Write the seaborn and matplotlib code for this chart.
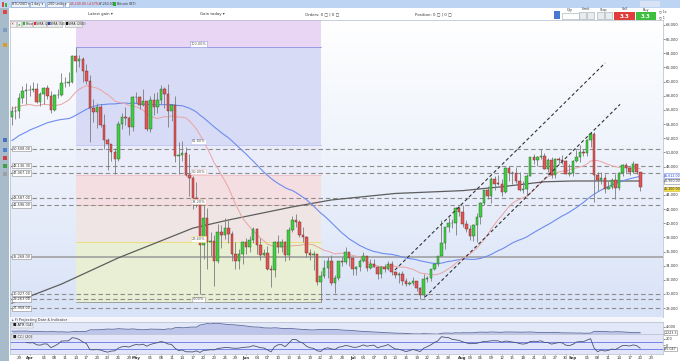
import numpy as np
import pandas as pd
import matplotlib
matplotlib.use("Agg")
import matplotlib.pyplot as plt
import matplotlib.transforms as mtransforms
from matplotlib.patches import Rectangle
from matplotlib.colors import LinearSegmentedColormap
import seaborn as sns

sns.set_theme(style="white")
plt.rcParams["font.family"] = ["DejaVu Sans"]

# ---------------- data (BTC/USD, USD thousands) ----------------
start_date = "2021-03-27"
opens = [55.00, 55.85, 55.78, 57.63, 58.73, 58.80, 58.76, 59.00, 57.10, 58.20,
         59.12, 57.96, 55.95, 58.08, 58.10, 59.77, 59.86, 59.90, 63.58, 62.95,
         63.24, 61.46, 60.07, 56.25, 55.72, 56.48, 53.80, 51.70, 51.15, 50.10,
         49.05, 54.05, 55.05, 54.89, 53.58, 57.78, 57.83, 56.63, 57.21, 53.24,
         57.47, 56.43, 57.38, 58.93, 58.30, 55.86, 56.70, 49.47, 49.70, 49.92,
         46.78, 46.45, 43.56, 42.91, 36.99, 40.78, 37.30, 37.52, 34.72, 38.80,
         38.40, 39.30, 38.43, 35.69, 34.62, 35.68, 37.34, 36.70, 37.57, 39.19,
         36.86, 35.54, 35.80, 33.57, 33.38, 37.39, 36.69, 37.34, 35.55, 39.10,
         40.52, 40.14, 38.35, 38.10, 35.82, 35.48, 35.60, 31.68, 32.51, 33.68,
         34.66, 31.59, 32.24, 34.68, 34.48, 35.87, 35.04, 33.51, 33.80, 34.67,
         35.30, 33.69, 34.22, 33.86, 32.88, 33.81, 33.51, 34.26, 33.09, 32.73,
         32.82, 31.78, 31.42, 31.52, 31.78, 30.84, 29.79, 32.11, 32.29, 33.58,
         34.29, 35.40, 37.27, 39.45, 40.00, 40.02, 42.20, 41.63, 39.88, 39.20,
         38.15, 39.73, 40.88, 42.83, 44.63, 43.82, 46.29, 45.60, 45.58, 44.43,
         47.83, 47.10, 47.05, 46.00, 44.70, 44.80, 46.72, 49.33, 48.87, 49.28,
         49.51, 47.70, 48.95, 46.85, 49.07, 48.90, 48.81, 46.99, 47.15, 48.83,
         49.28, 50.03, 49.94, 51.77, 52.66, 46.86, 46.05, 46.40, 44.85, 45.16,
         46.06, 44.96, 47.09, 48.18, 47.78, 47.29, 48.30, 47.26]
highs = [56.6, 56.6, 58.4, 59.4, 59.8, 59.5, 60.0, 59.8, 58.5, 59.2,
         59.5, 58.7, 58.2, 58.9, 61.2, 60.7, 61.3, 63.8, 64.9, 63.8,
         63.5, 62.5, 61.0, 57.5, 57.0, 56.8, 55.4, 52.1, 51.2, 50.6,
         54.4, 55.5, 56.4, 55.2, 58.0, 58.5, 57.9, 58.9, 57.2, 57.9,
         58.4, 58.6, 59.5, 59.3, 59.6, 56.9, 58.0, 51.4, 51.6, 50.7,
         49.8, 46.6, 45.8, 43.5, 42.5, 42.2, 38.8, 38.3, 39.9, 39.8,
         40.8, 40.4, 38.9, 37.3, 36.4, 37.5, 37.9, 38.2, 39.5, 39.3,
         37.9, 36.4, 36.8, 34.1, 37.5, 38.4, 37.7, 37.5, 39.4, 41.0,
         41.3, 40.5, 39.5, 38.2, 36.4, 36.1, 35.7, 33.3, 34.8, 35.2,
         35.5, 32.7, 34.7, 35.2, 36.6, 36.0, 35.1, 33.9, 34.9, 35.9,
         35.3, 35.0, 35.0, 33.9, 34.0, 34.2, 34.6, 34.6, 33.3, 33.1,
         33.2, 32.2, 31.9, 32.4, 31.9, 31.0, 32.8, 32.6, 33.6, 34.4,
         35.4, 40.5, 39.5, 40.9, 40.6, 42.3, 42.4, 42.6, 40.4, 39.8,
         39.9, 41.4, 43.0, 44.7, 45.3, 46.5, 46.7, 46.8, 46.2, 48.0,
         48.1, 47.4, 48.0, 47.2, 46.0, 47.0, 49.4, 49.8, 49.5, 50.5,
         49.9, 49.2, 49.3, 49.2, 49.3, 49.6, 48.9, 48.3, 48.9, 50.3,
         51.0, 50.5, 51.9, 52.9, 52.9, 47.3, 47.3, 47.0, 45.9, 46.4,
         46.9, 47.2, 48.4, 48.5, 48.0, 48.8, 48.4, 47.3]
lows = [53.9, 54.7, 54.9, 57.0, 56.9, 57.9, 58.5, 57.0, 56.5, 56.8,
        57.6, 55.5, 55.8, 57.7, 57.9, 59.3, 59.4, 59.8, 61.3, 62.1,
        60.0, 59.6, 51.5, 54.3, 53.5, 53.6, 50.5, 47.5, 48.8, 47.0,
        48.8, 53.3, 53.9, 52.4, 53.0, 57.0, 56.1, 56.5, 53.0, 52.9,
        55.3, 55.6, 56.9, 56.3, 53.6, 54.4, 48.6, 46.9, 48.8, 46.6,
        43.9, 42.0, 42.3, 30.0, 35.0, 33.5, 35.3, 31.1, 34.4, 36.5,
        37.8, 37.2, 34.7, 33.6, 33.5, 34.2, 35.7, 35.9, 37.2, 35.6,
        34.8, 35.3, 33.4, 31.0, 32.4, 35.8, 35.9, 34.7, 34.8, 38.8,
        39.5, 38.1, 37.4, 35.2, 34.8, 33.4, 31.3, 28.8, 32.3, 32.3,
        31.3, 30.2, 32.0, 33.9, 34.3, 34.0, 32.7, 32.7, 33.3, 34.5,
        33.2, 33.5, 33.8, 32.1, 32.3, 33.1, 33.4, 32.7, 32.3, 31.6,
        31.2, 31.1, 31.2, 31.2, 30.4, 29.3, 29.5, 31.7, 31.9, 33.4,
        33.9, 35.3, 36.4, 38.8, 39.3, 38.3, 41.0, 39.4, 38.7, 37.6,
        37.5, 37.3, 39.9, 42.5, 43.4, 42.9, 44.7, 45.4, 43.8, 44.3,
        45.9, 45.6, 45.7, 44.5, 44.2, 43.9, 46.7, 48.4, 48.1, 49.1,
        47.6, 47.2, 46.4, 46.4, 48.4, 48.3, 46.9, 46.7, 46.7, 48.7,
        48.6, 49.5, 49.5, 50.8, 43.0, 44.5, 45.5, 44.2, 44.8, 44.8,
        43.4, 44.7, 46.7, 47.1, 46.8, 47.1, 46.9, 44.5]
closes = [55.85, 55.78, 57.63, 58.73, 58.80, 58.76, 59.00, 57.10, 58.20, 59.12,
          57.96, 55.95, 58.08, 58.10, 59.77, 59.86, 59.90, 63.58, 62.95, 63.24,
          61.46, 60.07, 56.25, 55.72, 56.48, 53.80, 51.70, 51.15, 50.10, 49.05,
          54.05, 55.05, 54.89, 53.58, 57.78, 57.83, 56.63, 57.21, 53.24, 57.47,
          56.43, 57.38, 58.93, 58.30, 55.86, 56.70, 49.47, 49.70, 49.92, 46.78,
          46.45, 43.56, 42.91, 36.99, 40.78, 37.30, 37.52, 34.72, 38.80, 38.40,
          39.30, 38.43, 35.69, 34.62, 35.68, 37.34, 36.70, 37.57, 39.19, 36.86,
          35.54, 35.80, 33.57, 33.38, 37.39, 36.69, 37.34, 35.55, 39.10, 40.52,
          40.14, 38.35, 38.10, 35.82, 35.48, 35.60, 31.68, 32.51, 33.68, 34.66,
          31.59, 32.24, 34.68, 34.48, 35.87, 35.04, 33.51, 33.80, 34.67, 35.30,
          33.69, 34.22, 33.86, 32.88, 33.81, 33.51, 34.26, 33.09, 32.73, 32.82,
          31.78, 31.42, 31.52, 31.78, 30.84, 29.79, 32.11, 32.29, 33.58, 34.29,
          35.40, 37.27, 39.45, 40.00, 40.02, 42.20, 41.63, 39.88, 39.20, 38.15,
          39.73, 40.88, 42.83, 44.63, 43.82, 46.29, 45.60, 45.58, 44.43, 47.83,
          47.10, 47.05, 46.00, 44.70, 44.80, 46.72, 49.33, 48.87, 49.28, 49.51,
          47.70, 48.95, 46.85, 49.07, 48.90, 48.81, 46.99, 47.15, 48.83, 49.28,
          50.03, 49.94, 51.77, 52.66, 46.86, 46.05, 46.40, 44.85, 45.16, 46.06,
          44.96, 47.09, 48.18, 47.78, 47.29, 48.30, 47.26, 45.10]
# closes before the visible window (Feb 6 - Mar 26), used only for the SMAs
prior_closes = [39.27, 38.90, 46.40, 46.50, 44.85, 48.00, 47.40, 47.19, 48.58, 47.94,
                49.15, 52.12, 51.59, 55.92, 55.90, 57.41, 54.09, 48.86, 49.70, 47.04,
                46.28, 46.10, 45.14, 49.59, 48.44, 50.35, 48.37, 48.75, 48.88, 50.97,
                52.38, 54.88, 55.86, 57.33, 57.17, 61.19, 59.00, 55.63, 56.88, 58.91,
                57.65, 58.03, 58.10, 57.35, 54.08, 54.34, 52.30, 51.30, 55.03]
# SMA(200) (day index, value)
sma200_day = [0, 14, 30, 51, 61, 79, 90, 108, 127, 138, 150, 158, 177]
sma200_val = [28.70, 31.40, 35.10, 39.30, 40.45, 42.30, 43.28, 44.20, 44.60, 45.15, 45.85, 45.96, 45.96]

# horizontal support/resistance lines
hline_vals = [50.508, 48.1363, 47.0672, 43.587, 42.596, 35.268, 30.027, 29.263, 27.958]
hline_labels = ["50,508.00", "48,136.30", "47,067.20", "43,587.00", "42,596.00",
                "35,268.00", "30,027.00", "29,263.00", "27,958.00"]
hline_solid = [False, False, False, False, False, True, False, False, False]

# Fibonacci retracement (Apr 14 high -> Jun 22 low)
fib_day0, fib_day1 = 18, 87
fib_high, fib_low = 64.9, 28.8
fib_ratios = [0.0, 0.236, 0.382, 0.5, 0.618, 1.0, 1.618]
fib_labels = ["0.00%", "23.60%", "38.20%", "50.00%", "61.80%", "100.00%"]
fib_band_colors = ["#e8efd4", "#efe5e5", "#f4dee2", "#eaedf9", "#d8dbf6", "#e8d6f4"]
fib_line_colors = ["#a0a0a0", "#e8e07a", "#f0c2b0", "#f0c4c8", "#c4c8f0", "#9a9ae2"]

# trend channel (day, price)
chan_upper_x, chan_upper_y = [107.9, 167.1], [33.39, 62.63]
chan_lower_x, chan_lower_y = [116.4, 171.3], [29.58, 56.78]

tick_dates = ["2021-03-29", "2021-04-01", "2021-04-05", "2021-04-08", "2021-04-11", "2021-04-14",
              "2021-04-17", "2021-04-20", "2021-04-23", "2021-04-26", "2021-04-29",
              "2021-05-01", "2021-05-05", "2021-05-08", "2021-05-11", "2021-05-14", "2021-05-17",
              "2021-05-20", "2021-05-23", "2021-05-26", "2021-05-29",
              "2021-06-01", "2021-06-04", "2021-06-07", "2021-06-10", "2021-06-13", "2021-06-16",
              "2021-06-19", "2021-06-22", "2021-06-25", "2021-06-28",
              "2021-07-01", "2021-07-04", "2021-07-07", "2021-07-10", "2021-07-13", "2021-07-16",
              "2021-07-19", "2021-07-22", "2021-07-25", "2021-07-28",
              "2021-08-01", "2021-08-03", "2021-08-06", "2021-08-09", "2021-08-12", "2021-08-15",
              "2021-08-18", "2021-08-21", "2021-08-24", "2021-08-27", "2021-08-30",
              "2021-09-01", "2021-09-05", "2021-09-08", "2021-09-11", "2021-09-14", "2021-09-17",
              "2021-09-20", "2021-09-23"]

# ---------------- derived series ----------------
o = np.array(opens); h = np.array(highs); l = np.array(lows); c = np.array(closes)
n = len(c)
day = np.arange(n)
allc = pd.Series(prior_closes + closes)
sma20 = allc.rolling(20).mean().values[len(prior_closes):]
sma50 = allc.rolling(50).mean().values[len(prior_closes):]
prev_c = np.concatenate([[prior_closes[-1]], c[:-1]])
tr = np.maximum.reduce([h - l, np.abs(h - prev_c), np.abs(l - prev_c)])
atr = pd.Series(tr).ewm(alpha=1 / 14, adjust=False).mean().values * 1000
tp = pd.Series((h + l + c) / 3)
tp_ma = tp.rolling(20, min_periods=5).mean()
tp_md = tp.rolling(20, min_periods=5).apply(lambda x: np.mean(np.abs(x - x.mean())), raw=True)
cci = ((tp - tp_ma) / (0.015 * tp_md)).values

# ---------------- figure layout ----------------
W, H = 680, 361
fig = plt.figure(figsize=(W / 100, H / 100), dpi=100)
fig.patch.set_facecolor("white")
fx = lambda px: px / W
fy = lambda py: 1 - py / H
PX0, PX1 = 10, 663
ax = fig.add_axes([fx(PX0), fy(317), fx(PX1 - PX0), (317 - 20) / H])
ax_atr = fig.add_axes([fx(PX0), fy(334), fx(PX1 - PX0), (334 - 322) / H])
ax_cci = fig.add_axes([fx(PX0), fy(354), fx(PX1 - PX0), (354 - 334) / H])
XLIM = (-0.5, 183.4)
YLIM = (26.75, 68.70)


def vgrad(a, top, bottom):
    cmap = LinearSegmentedColormap.from_list("g", [bottom, top])
    a.imshow(np.linspace(0, 1, 256).reshape(-1, 1), cmap=cmap, aspect="auto",
             extent=[0, 1, 0, 1], transform=a.transAxes, origin="lower", zorder=0)


vgrad(ax, "#ffffff", "#d9e3f7")
blend = mtransforms.blended_transform_factory(ax.transAxes, ax.transData)

# Fibonacci bands
fib_rng = fib_high - fib_low
for k in range(len(fib_ratios) - 1):
    y0 = fib_low + fib_ratios[k] * fib_rng
    y1 = fib_low + fib_ratios[k + 1] * fib_rng
    ax.fill_between([fib_day0, fib_day1], y0, y1, color=fib_band_colors[k], zorder=1, lw=0)
for k, r in enumerate(fib_ratios[:-1]):
    yv = fib_low + r * fib_rng
    ax.plot([fib_day0, fib_day1], [yv, yv], color=fib_line_colors[k], lw=0.7, zorder=1.5)
    ax.text((fib_day0 + fib_day1) / 2, yv + 0.15, fib_labels[k], fontsize=2.5, color="#555",
            ha="center", va="bottom", zorder=6,
            bbox=dict(boxstyle="square,pad=0.2", fc="white", ec=fib_line_colors[k], lw=0.4))

# horizontal lines
for v, lab, solid in zip(hline_vals, hline_labels, hline_solid):
    if solid:
        ax.axhline(v, color="#9a9a9a", lw=1.1, zorder=2)
    else:
        ax.axhline(v, color="#8c8c8c", lw=0.8, ls=(0, (4, 2.6)), zorder=2)
    ax.text(0.004, v, lab, transform=blend, fontsize=2.5, color="#333", ha="left", va="center",
            zorder=7, bbox=dict(boxstyle="square,pad=0.2", fc="white", ec="#8a8a8a", lw=0.4))

# moving averages
sns.lineplot(x=sma200_day, y=sma200_val, ax=ax, color="#5e5e5e", lw=0.9, zorder=3, legend=False)
sns.lineplot(x=day, y=sma50, ax=ax, color="#6d8cf0", lw=0.8, zorder=3, legend=False)
sns.lineplot(x=day, y=sma20, ax=ax, color="#eaa3a3", lw=0.7, zorder=3, legend=False)

# candles
up = c >= o
ax.vlines(day, l, h, color="#7c7c7c", lw=0.6, zorder=4)
ax.bar(day[up], np.maximum((c - o)[up], 0.05), bottom=o[up], width=0.7, color="#3fd03f",
       edgecolor="#2c5a2c", lw=0.3, zorder=5)
ax.bar(day[~up], np.maximum((o - c)[~up], 0.05), bottom=c[~up], width=0.7, color="#e25555",
       edgecolor="#6b2b2b", lw=0.3, zorder=5)

# trend channel
ax.plot(chan_upper_x, chan_upper_y, color="#333333", lw=0.8, ls=(0, (3, 2.2)), zorder=6)
ax.plot(chan_lower_x, chan_lower_y, color="#333333", lw=0.8, ls=(0, (3, 2.2)), zorder=6)

ax.set_xlim(*XLIM)
ax.set_ylim(*YLIM)
ax.yaxis.tick_right()
yt = np.arange(28, 69, 2)
ax.set_yticks(yt)
ax.set_yticklabels(["" if v == 46 else f"{int(v * 1000):,}" for v in yt])
ax.tick_params(axis="y", labelsize=2.6, pad=1.0, length=1.2, width=0.4, colors="#333", right=True)
ax.set_xticks([])
ax.set_xlabel(""); ax.set_ylabel("")
for s in ax.spines.values():
    s.set_color("#b4bccb"); s.set_linewidth(0.5)

# right-axis value tags
tag = dict(fontsize=2.3, ha="left", va="center", transform=blend, clip_on=False, zorder=8)
ax.text(1.002, sma50[-1] + 0.1, f"{sma50[-1] * 1000:,.2f}", color="#2040d0",
        bbox=dict(boxstyle="square,pad=0.1", fc="white", ec="#6d8cf0", lw=0.4), **tag)
ax.text(1.002, sma200_val[-1] - 0.05, f"{sma200_val[-1] * 1000:,.2f}", color="#444",
        bbox=dict(boxstyle="square,pad=0.1", fc="white", ec="#888", lw=0.4), **tag)
ax.text(1.002, c[-1] - 0.25, f"{c[-1] * 1000:,.2f}", color="#222",
        bbox=dict(boxstyle="square,pad=0.1", fc="#f4e04a", ec="#c8b030", lw=0.4), **tag)

# ---------------- ATR panel ----------------
ax_atr.set_facecolor("#e3e8f8")
ax_atr.fill_between(day, atr, 0, color="#bdc5ea", lw=0, zorder=1)
sns.lineplot(x=day, y=atr, ax=ax_atr, color="#5b6a9a", lw=0.6, zorder=2, legend=False)
ax_atr.set_xlim(*XLIM)
ax_atr.set_ylim(1758, 5600)
ax_atr.yaxis.tick_right()
ax_atr.set_yticks([4000])
ax_atr.set_yticklabels(["4,000"])
ax_atr.tick_params(axis="y", labelsize=2.5, pad=1.0, length=1.2, width=0.4, colors="#333")
ax_atr.set_xticks([])
ax_atr.set_xlabel(""); ax_atr.set_ylabel("")
ax_atr.text(1.002, atr[-1], f"{atr[-1]:,.1f}", fontsize=2.3, ha="left", va="center",
            transform=mtransforms.blended_transform_factory(ax_atr.transAxes, ax_atr.transData),
            clip_on=False, color="#333", bbox=dict(boxstyle="square,pad=0.1", fc="white", ec="#888", lw=0.4))
ax_atr.text(0.004, 0.72, "■ ATR (14)", transform=ax_atr.transAxes, fontsize=2.6, color="#222",
            va="center", bbox=dict(boxstyle="square,pad=0.15", fc="#eef0f8", ec="#aaa", lw=0.3))
for s in ax_atr.spines.values():
    s.set_color("#b4bccb"); s.set_linewidth(0.5)

# ---------------- CCI panel ----------------
ax_cci.set_facecolor("#e2e6f8")
ax_cci.axhline(100, color="#7283ea", lw=0.7, zorder=1)
ax_cci.axhline(-100, color="#7283ea", lw=0.7, zorder=1)
sns.lineplot(x=day, y=cci, ax=ax_cci, color="#4b5273", lw=0.6, zorder=2, legend=False)
ax_cci.set_xlim(*XLIM)
ax_cci.set_ylim(-257, 343)
ax_cci.yaxis.tick_right()
ax_cci.set_yticks([200, 0])
ax_cci.set_yticklabels(["200", "0"])
ax_cci.tick_params(axis="y", labelsize=2.5, pad=1.0, length=1.2, width=0.4, colors="#333")
ax_cci.text(1.002, cci[-1] - 25, f"{cci[-1]:,.3f}", fontsize=2.3, ha="left", va="center",
            transform=mtransforms.blended_transform_factory(ax_cci.transAxes, ax_cci.transData),
            clip_on=False, color="#333", bbox=dict(boxstyle="square,pad=0.1", fc="white", ec="#888", lw=0.4))
ax_cci.text(0.004, 0.86, "■ CCI (20)", transform=ax_cci.transAxes, fontsize=2.6, color="#222",
            va="center", bbox=dict(boxstyle="square,pad=0.15", fc="#eef0f8", ec="#aaa", lw=0.3))
tick_ts = [pd.Timestamp(d) for d in tick_dates]
tick_pos = [(t - pd.Timestamp(start_date)).days for t in tick_ts]
tick_lab = [t.strftime("%b") if t.day == 1 else t.strftime("%d") for t in tick_ts]
ax_cci.set_xticks(tick_pos)
ax_cci.set_xticklabels(tick_lab)
ax_cci.tick_params(axis="x", labelsize=2.8, pad=0.6, length=1.0, width=0.4, colors="#333", bottom=True)
for t, lab in zip(ax_cci.get_xticklabels(), tick_lab):
    if not lab.isdigit():
        t.set_fontweight("bold")
ax_cci.set_xlabel(""); ax_cci.set_ylabel("")
for s in ax_cci.spines.values():
    s.set_color("#b4bccb"); s.set_linewidth(0.5)

# ---------------- application chrome ----------------
def frect(x0, y0, x1, y1, fc, ec="none", lw=0.4, z=0):
    fig.patches.append(Rectangle((fx(x0), fy(y1)), fx(x1 - x0), (y1 - y0) / H, transform=fig.transFigure,
                                 fc=fc, ec=ec, lw=lw, zorder=z))


def ftext(x, y, s, size=3, color="#333", ha="left", weight="normal"):
    fig.text(fx(x), fy(y), s, fontsize=size, color=color, ha=ha, va="center", fontweight=weight)


frect(0, 0, 680, 8, "#bed4f3")
frect(0, 8, 9, 361, "#a8bbca")
for yy, col in [(12, "#e04444"), (30, "#7f9bbf"), (45, "#d0a030"), (140, "#4a70c0"),
                (150, "#5080d0"), (158, "#d04040"), (166, "#40a040"), (174, "#a0a0a0")]:
    frect(2.5, yy - 2, 6.5, yy + 2, col)
frect(2, 2, 4, 7, "#e04444"); frect(4.5, 3, 6.5, 7, "#40b040")
for x0, x1, s in [(11, 29, "BTC/USD ▾"), (30, 45, "1 day ▾"), (47, 63, "200 units ▾")]:
    frect(x0, 1.5, x1, 6.5, "#eef3fb", "#8aa0c0")
    ftext(x0 + 1, 4, s, size=2.4)
chg = (c[-1] / c[-2] - 1) * 100
frect(65, 1.5, 69, 6.5, "#ffffff", "#8aa0c0")
ftext(70, 4, f"{c[-1] * 1000:,.2f} ({chg:.2f}%)", size=2.2, color="#d02020")
ftext(98.5, 4, f"{c[-2] * 1000:,.2f}", size=2.2)
frect(113, 2, 116, 6, "#30b030")
ftext(117, 4, "Bitcoin (BT)", size=2.3)
frect(640, 1, 660, 7, "#d8e4f6")
ftext(100, 14, "Latest gain ▾", size=2.8, ha="center")
ftext(212, 14, "Gain today ▾", size=2.8, ha="center")
ftext(322, 14, "Orders: 0 ▢ | 0 ▢", size=2.8, ha="center")
ftext(433, 14, "Position: 0 ▢ | 0 ▢", size=2.8, ha="center")
frect(554, 11, 560, 19, "#4a7ad0")
for x, s in [(570, "Qty"), (586, "Limit"), (604, "Stop"), (625, "Sell"), (646, "Buy")]:
    ftext(x, 9.5, s, size=2.4, ha="center")
frect(562, 12.5, 579, 18.5, "white", "#9aa")
for x0 in (579, 587, 597, 605):
    frect(x0, 12, x0 + 7, 19, "#e8ecf0", "#9aa")
frect(614, 11.5, 635, 20, "#e03c3c")
frect(636, 11.5, 656, 20, "#3cbf3c")
ftext(624.5, 16, "3.3", size=4, color="white", ha="center", weight="bold")
ftext(646, 16, "3.3", size=4, color="white", ha="center", weight="bold")
ftext(659, 11, "○ 1s", size=2.3)
ftext(659, 17, "○ 1", size=2.3)
frect(0, 19.5, 680, 20, "#d0d8e4")

# legend row
frect(10, 21, 16, 26.5, "#f2f2f2", "#aaa"); ftext(11, 23.8, "✕", size=2.8, color="#d03030")
frect(17, 21, 21, 26.5, "#f2f2f2", "#aaa"); ftext(17.5, 23.8, "◂", size=2.8, color="#30a030")
for x0, x1, col, s in [(22, 32, "#30b030", "Price"), (33, 46, "#e03030", "SMA (20)"),
                       (47, 62, "#3050e0", "SMA (50)"), (65, 82, "#111111", "SMA (200)")]:
    frect(x0, 21, x1, 26.5, "#ececec", "#aaa", z=1)
    frect(x0 + 0.8, 22.5, x0 + 2.8, 25, col, z=2)
    ftext(x0 + 3.5, 23.8, s, size=2.4)

frect(PX0, 317, PX1, 322, "#f4f6fb")
ftext(12, 319.5, "▸ Fi Projecting Date & Indicator", size=2.5, color="#333")

fig.savefig("out.png", dpi=100)
